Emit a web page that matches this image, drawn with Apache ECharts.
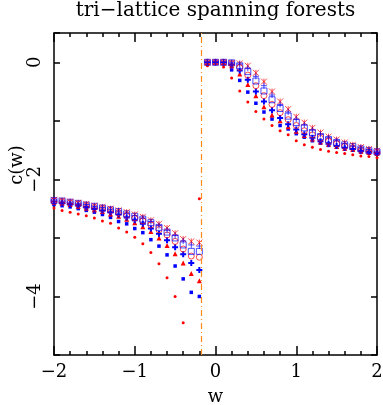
<!DOCTYPE html>
<html>
<head>
<meta charset="utf-8">
<script src="https://cdn.jsdelivr.net/npm/echarts@6/dist/echarts.min.js"></script>
<style>
  html, body { margin: 0; padding: 0; background: #fff; }
  #chart { width: 383px; height: 405px; }
</style>
</head>
<body>
<div id="chart"></div>
<script>
// w values: left branch -2.0 .. -0.2, right branch -0.1 .. 2.0
var wValues = [-2.0, -1.9, -1.8, -1.7, -1.6, -1.5, -1.4, -1.3, -1.2, -1.1, -1.0, -0.9, -0.8, -0.7, -0.6, -0.5, -0.4, -0.3, -0.2,
    -0.1, 0.0, 0.1, 0.2, 0.3, 0.4, 0.5, 0.6, 0.7, 0.8, 0.9, 1.0, 1.1, 1.2, 1.3, 1.4, 1.5, 1.6, 1.7, 1.8, 1.9, 2.0];

// c(w) for each lattice size
var redDot = [-2.49, -2.53, -2.56, -2.59, -2.62, -2.66, -2.71, -2.75, -2.83, -2.90, -2.99, -3.10, -3.25, -3.44, -3.68, -4.00, -4.45, null, -2.33,
    -0.06, 0, -0.08, -0.27, -0.49, -0.68, -0.84, -0.97, -1.08, -1.17, -1.24, -1.34, -1.41, -1.45, -1.49, -1.52, -1.54, -1.56, -1.58, -1.60, -1.61, -1.63];
var blueSquare = [-2.43, -2.45, -2.47, -2.50, -2.53, -2.56, -2.60, -2.65, -2.72, -2.76, -2.84, -2.91, -3.03, -3.14, -3.29, -3.48, -3.70, -3.93, -4.00,
    -0.01, 0, -0.02, -0.13, -0.31, -0.51, -0.70, -0.85, -0.97, -1.08, -1.14, -1.22, -1.28, -1.34, -1.38, -1.42, -1.45, -1.48, -1.50, -1.53, -1.55, -1.57];
var redTriangle = [-2.39, -2.41, -2.43, -2.46, -2.49, -2.52, -2.55, -2.59, -2.63, -2.68, -2.74, -2.81, -2.89, -3.00, -3.13, -3.27, -3.43, -3.61, -3.73,
    -0.01, 0, -0.01, -0.06, -0.20, -0.38, -0.57, -0.76, -0.90, -1.00, -1.10, -1.18, -1.25, -1.31, -1.36, -1.40, -1.44, -1.47, -1.49, -1.52, -1.54, -1.56];
var bluePlus = [-2.38, -2.40, -2.42, -2.44, -2.47, -2.50, -2.53, -2.56, -2.60, -2.65, -2.70, -2.76, -2.84, -2.93, -3.04, -3.16, -3.28, -3.43, -3.55,
    0, 0, 0, -0.04, -0.14, -0.30, -0.50, -0.67, -0.82, -0.95, -1.06, -1.15, -1.23, -1.29, -1.35, -1.39, -1.43, -1.46, -1.48, -1.51, -1.53, -1.55];
var redCircle = [-2.37, -2.38, -2.40, -2.42, -2.45, -2.48, -2.50, -2.53, -2.57, -2.61, -2.66, -2.71, -2.78, -2.86, -2.95, -3.06, -3.19, -3.31, -3.33,
    0, 0, 0, -0.02, -0.09, -0.22, -0.40, -0.57, -0.72, -0.86, -0.98, -1.08, -1.17, -1.24, -1.30, -1.35, -1.39, -1.43, -1.46, -1.49, -1.52, -1.54];
var blueOpenSquare = [-2.36, -2.37, -2.39, -2.41, -2.44, -2.46, -2.49, -2.52, -2.55, -2.59, -2.63, -2.68, -2.74, -2.82, -2.90, -3.00, -3.12, -3.23, -3.23,
    0, 0, 0, -0.01, -0.06, -0.16, -0.32, -0.49, -0.64, -0.79, -0.92, -1.03, -1.12, -1.20, -1.27, -1.32, -1.37, -1.41, -1.44, -1.48, -1.51, -1.53];
var redStar = [-2.35, -2.36, -2.38, -2.40, -2.42, -2.45, -2.47, -2.50, -2.53, -2.56, -2.60, -2.64, -2.70, -2.76, -2.83, -2.92, -3.02, -3.06, -3.08,
    0, 0, 0, -0.01, -0.02, -0.06, -0.18, -0.33, -0.50, -0.67, -0.80, -0.93, -1.03, -1.12, -1.20, -1.27, -1.32, -1.37, -1.41, -1.45, -1.48, -1.51];
var blueCross = [-2.35, -2.37, -2.39, -2.41, -2.43, -2.46, -2.48, -2.51, -2.54, -2.58, -2.62, -2.66, -2.72, -2.79, -2.87, -2.96, -3.05, -3.12, -3.14,
    0, 0, 0, -0.01, -0.03, -0.10, -0.24, -0.40, -0.56, -0.72, -0.85, -0.97, -1.07, -1.16, -1.23, -1.29, -1.34, -1.39, -1.43, -1.46, -1.49, -1.52];

var criticalW = -0.18;
var xTicks = [-2, -1, 0, 1, 2];
var yTickLabels = [0, -2, -4];

var RED = '#ff0000';
var BLUE = '#0000ff';
var FONT = 'DejaVu Serif';

function pairs(vals) {
    var out = [];
    for (var i = 0; i < wValues.length; i++) {
        if (vals[i] !== null) out.push([wValues[i], vals[i]]);
    }
    return out;
}

function minus(v) {
    return String(v).replace('-', '\u2212');
}

// filled marker
function filled(name, vals, symbol, size, color) {
    return {
        name: name, type: 'scatter', data: pairs(vals),
        symbol: symbol, symbolSize: size,
        itemStyle: { color: color, opacity: 1 },
        silent: true
    };
}

// outline-only marker
function open(name, vals, symbol, size, color) {
    return {
        name: name, type: 'scatter', data: pairs(vals),
        symbol: symbol, symbolSize: size,
        itemStyle: { color: 'rgba(0,0,0,0)', borderColor: color, borderWidth: 1, opacity: 0.7 },
        silent: true
    };
}

// frame axes, fresh objects each time
function xAxisBase(pos) {
    return {
        type: 'value', min: -2, max: 2, interval: 1, position: pos,
        axisLine: { show: true, onZero: false, lineStyle: { color: '#000', width: 1.5 } },
        axisTick: { show: true, inside: true, length: 9, lineStyle: { color: '#000', width: 1.5 } },
        minorTick: { show: true, splitNumber: 5, length: 4, lineStyle: { color: '#000', width: 1.5 } },
        splitLine: { show: false }
    };
}

function yAxisBase(pos) {
    return {
        type: 'value', min: -5, max: 0.5, interval: 1, position: pos,
        axisLine: { show: true, onZero: false, lineStyle: { color: '#000', width: 1.5 } },
        axisTick: { show: true, inside: true, length: 6, lineStyle: { color: '#000', width: 1.5 } },
        splitLine: { show: false }
    };
}

var xBottom = xAxisBase('bottom');
xBottom.axisLabel = {
    margin: 8, color: '#000', fontFamily: FONT, fontSize: 18,
    formatter: function(v) { return xTicks.indexOf(v) >= 0 ? minus(v) : ''; }
};
xBottom.name = 'w';
xBottom.nameLocation = 'middle';
xBottom.nameGap = 33;
xBottom.nameTextStyle = { color: '#000', fontFamily: FONT, fontSize: 18 };

var xTop = xAxisBase('top');
xTop.axisLabel = { show: false };

var yLeft = yAxisBase('left');
yLeft.axisLabel = {
    rotate: 90, margin: 10, color: '#000', fontFamily: FONT, fontSize: 18,
    formatter: function(v) { return yTickLabels.indexOf(v) >= 0 ? minus(v) : ''; }
};

var yRight = yAxisBase('right');
yRight.axisLabel = { show: false };

var myChart = echarts.init(document.getElementById('chart'));

var option = {
    animation: false,
    backgroundColor: '#fff',
    grid: { left: 54, top: 33, width: 323, height: 322, outerBoundsMode: 'none' },
    xAxis: [xBottom, xTop],
    yAxis: [yLeft, yRight],
    graphic: [{
        type: 'text', x: 215.5, y: 11,
        style: { text: 'tri\u2212lattice spanning forests', fill: '#000', font: '20px "' + FONT + '"', align: 'center', verticalAlign: 'middle' }
    }, {
        type: 'text', x: 17, y: 165, rotation: Math.PI / 2,
        style: { text: 'c(w)', fill: '#000', font: '18px "' + FONT + '"', align: 'center', verticalAlign: 'middle' }
    }],
    series: [
        filled('L1', redDot, 'circle', 3, RED),
        filled('L2', blueSquare, 'rect', 3.5, BLUE),
        filled('L3', redTriangle, 'triangle', 5, RED),
        filled('L4', bluePlus, 'path://M2,0H4V2H6V4H4V6H2V4H0V2H2Z', 6, BLUE),
        open('L5', redCircle, 'circle', 6, RED),
        open('L6', blueOpenSquare, 'rect', 6, BLUE),
        open('L7', redStar, 'path://M0,0L6,6M6,0L0,6M3,0V6', 6, RED),
        open('L8', blueCross, 'path://M0,3H6M3,0V6', 6, BLUE),
        {
            type: 'line', data: [], silent: true,
            markLine: {
                silent: true, symbol: ['none', 'none'], label: { show: false },
                lineStyle: { color: '#ff8c1a', width: 1.2, opacity: 1, type: [6, 3, 1, 3] },
                emphasis: { disabled: true },
                data: [{ xAxis: criticalW }]
            }
        }
    ]
};

myChart.setOption(option);
</script>
</body>
</html>
